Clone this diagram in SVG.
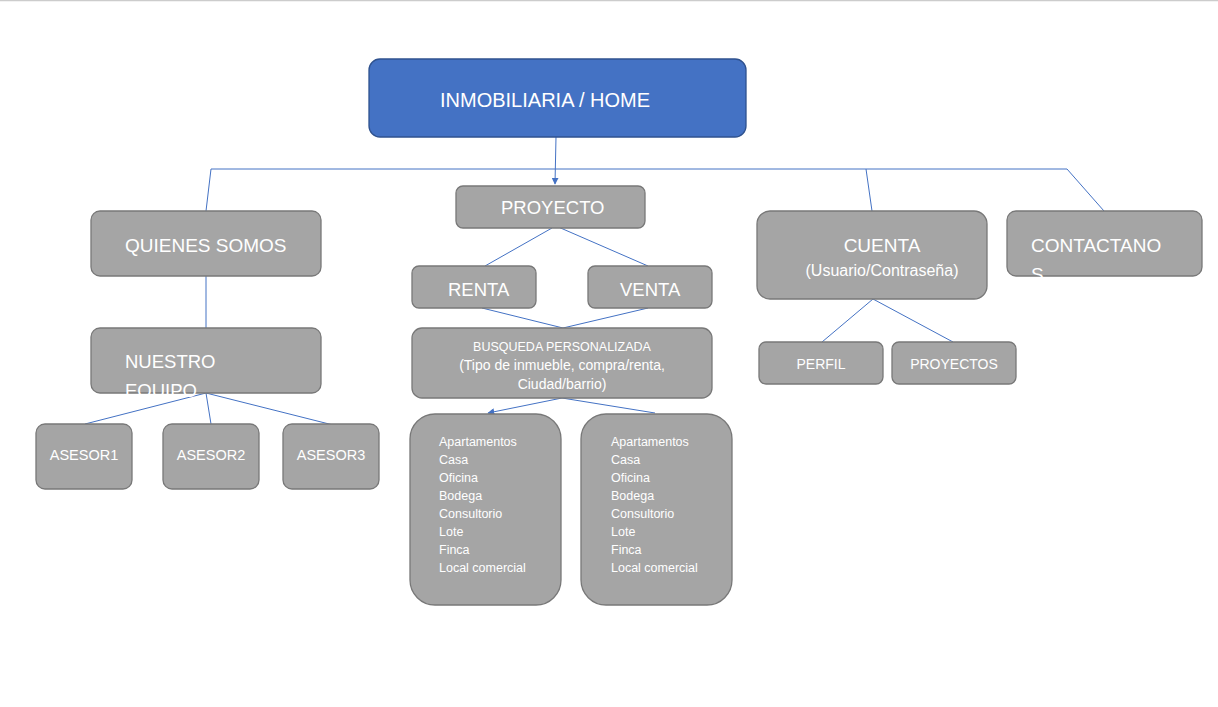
<svg xmlns="http://www.w3.org/2000/svg" width="1218" height="707" viewBox="0 0 1218 707">
<defs>
<marker id="arr" viewBox="0 0 10 10" refX="9" refY="5" markerWidth="7" markerHeight="7" orient="auto" markerUnits="userSpaceOnUse">
<path d="M0,0 L10,5 L0,10 z" fill="#4472C4"/>
</marker>
<clipPath id="clipNE"><rect x="91" y="328" width="230" height="69"/></clipPath>
<clipPath id="clipCT"><rect x="1007" y="211" width="195" height="69"/></clipPath>
</defs>
<style>
.box{fill:#A5A5A5;stroke:#787878;stroke-width:1.3}
.blue{fill:#4472C4;stroke:#2F528F;stroke-width:1.3}
.t{font-family:"Liberation Sans",Arial,sans-serif;fill:#ffffff}
.c{text-anchor:middle}
.ln{stroke:#4472C4;stroke-width:1;fill:none}
</style>
<rect x="0" y="0" width="1218" height="707" fill="#ffffff"/>
<line x1="0" y1="0.5" x2="1218" y2="0.5" stroke="#cccccc" stroke-width="1.5"/>

<g id="connectors">
<line class="ln" x1="556" y1="137" x2="555" y2="184" marker-end="url(#arr)"/>
<polyline class="ln" points="206,211 211,169 1067,169 1104,211"/>
<line class="ln" x1="866" y1="169" x2="872" y2="211"/>
<line class="ln" x1="552" y1="228" x2="485" y2="266"/>
<line class="ln" x1="556" y1="226" x2="648" y2="266"/>
<line class="ln" x1="482" y1="308" x2="563" y2="328"/>
<line class="ln" x1="648" y1="308" x2="563" y2="328"/>
<line class="ln" x1="562" y1="398" x2="488" y2="413" marker-end="url(#arr)"/>
<line class="ln" x1="562" y1="398" x2="655" y2="413"/>
<line class="ln" x1="206" y1="276" x2="206" y2="328"/>
<line class="ln" x1="206" y1="393" x2="85" y2="424"/>
<line class="ln" x1="206" y1="393" x2="211" y2="424"/>
<line class="ln" x1="206" y1="393" x2="341" y2="427"/>
<line class="ln" x1="873" y1="299" x2="822" y2="342"/>
<line class="ln" x1="873" y1="299" x2="953" y2="342"/>
</g>

<g id="home">
<rect class="blue" x="369" y="59" width="377" height="78" rx="11"/>
<text class="t" x="440" y="107" font-size="20">INMOBILIARIA / HOME</text>
</g>

<g id="proyecto">
<rect class="box" x="456" y="186" width="189" height="42" rx="7"/>
<text class="t" x="501" y="214" font-size="18.5">PROYECTO</text>
</g>

<g id="quienes">
<rect class="box" x="91" y="211" width="230" height="65" rx="9"/>
<text class="t" x="125" y="252" font-size="19">QUIENES SOMOS</text>
</g>

<g id="cuenta">
<rect class="box" x="757" y="211" width="230" height="88" rx="13"/>
<text class="t c" x="882" y="252" font-size="19">CUENTA</text>
<text class="t c" x="882" y="276" font-size="16">(Usuario/Contraseña)</text>
</g>

<g id="contactanos">
<rect class="box" x="1007" y="211" width="195" height="65" rx="9"/>
<text class="t" x="1031" y="252" font-size="19">CONTACTANO</text>
<text class="t" x="1031" y="281" font-size="19" clip-path="url(#clipCT)">S</text>
</g>

<g id="renta">
<rect class="box" x="412" y="266" width="124" height="42" rx="7"/>
<text class="t" x="448" y="296" font-size="18.5">RENTA</text>
</g>

<g id="venta">
<rect class="box" x="588" y="266" width="124" height="42" rx="7"/>
<text class="t" x="620" y="296" font-size="18.5">VENTA</text>
</g>

<g id="busqueda">
<rect class="box" x="412" y="328" width="300" height="70" rx="10"/>
<text class="t c" x="562" y="351" font-size="12.5">BUSQUEDA PERSONALIZADA</text>
<text class="t c" x="562" y="370" font-size="14">(Tipo de inmueble, compra/renta,</text>
<text class="t c" x="562" y="389" font-size="14">Ciudad/barrio)</text>
</g>

<g id="lista-renta">
<rect class="box" x="410" y="414" width="151" height="191" rx="25"/>
<text class="t" font-size="12.5">
<tspan x="439" y="446">Apartamentos</tspan>
<tspan x="439" y="464">Casa</tspan>
<tspan x="439" y="482">Oficina</tspan>
<tspan x="439" y="500">Bodega</tspan>
<tspan x="439" y="518">Consultorio</tspan>
<tspan x="439" y="536">Lote</tspan>
<tspan x="439" y="554">Finca</tspan>
<tspan x="439" y="572">Local comercial</tspan>
</text>
</g>

<g id="lista-venta">
<rect class="box" x="581" y="414" width="151" height="191" rx="25"/>
<text class="t" font-size="12.5">
<tspan x="611" y="446">Apartamentos</tspan>
<tspan x="611" y="464">Casa</tspan>
<tspan x="611" y="482">Oficina</tspan>
<tspan x="611" y="500">Bodega</tspan>
<tspan x="611" y="518">Consultorio</tspan>
<tspan x="611" y="536">Lote</tspan>
<tspan x="611" y="554">Finca</tspan>
<tspan x="611" y="572">Local comercial</tspan>
</text>
</g>

<g id="nuestro-equipo">
<rect class="box" x="91" y="328" width="230" height="65" rx="9"/>
<text class="t" x="125" y="368" font-size="18.5">NUESTRO</text>
<text class="t" x="125" y="397" font-size="18.5" clip-path="url(#clipNE)">EQUIPO</text>
</g>

<g id="asesor1">
<rect class="box" x="36" y="424" width="96" height="65" rx="9"/>
<text class="t c" x="84" y="460" font-size="14.5">ASESOR1</text>
</g>
<g id="asesor2">
<rect class="box" x="163" y="424" width="96" height="65" rx="9"/>
<text class="t c" x="211" y="460" font-size="14.5">ASESOR2</text>
</g>
<g id="asesor3">
<rect class="box" x="283" y="424" width="96" height="65" rx="9"/>
<text class="t c" x="331" y="460" font-size="14.5">ASESOR3</text>
</g>

<g id="perfil">
<rect class="box" x="759" y="342" width="124" height="42" rx="7"/>
<text class="t c" x="821" y="369" font-size="14">PERFIL</text>
</g>
<g id="proyectos">
<rect class="box" x="892" y="342" width="124" height="42" rx="7"/>
<text class="t c" x="954" y="369" font-size="14">PROYECTOS</text>
</g>
</svg>
